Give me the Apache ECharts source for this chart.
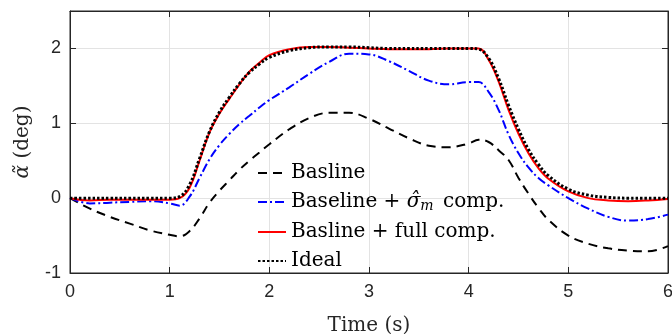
<!DOCTYPE html>
<html>
<head>
<meta charset="utf-8">
<script src="https://cdn.jsdelivr.net/npm/echarts@6/dist/echarts.min.js"></script>
<style>
  html, body { margin: 0; padding: 0; background: #fff; }
  #chart { width: 672px; height: 334px; }
</style>
</head>
<body>
<div id="chart"></div>
<script>
// time axis (s)
const timeS = [0, 0.2, 0.4, 0.6, 0.8, 1.0, 1.1, 1.2, 1.3, 1.4, 1.5, 1.6, 1.7, 1.8, 1.9, 2.0,
  2.2, 2.4, 2.6, 2.8, 3.0, 3.2, 3.4, 3.6, 3.8, 4.0, 4.1, 4.2, 4.3, 4.4, 4.5, 4.6, 4.7, 4.8,
  5.0, 5.2, 5.4, 5.6, 5.8, 6.0];

// alpha tilde (deg)
const basline = [0, -0.14, -0.25, -0.34, -0.43, -0.49, -0.51, -0.44, -0.27, -0.06, 0.10, 0.24, 0.38, 0.50, 0.61, 0.72,
  0.92, 1.07, 1.14, 1.14, 1.06, 0.93, 0.80, 0.70, 0.68, 0.73, 0.78, 0.75, 0.64, 0.51, 0.27, 0.06, -0.13, -0.29,
  -0.50, -0.61, -0.67, -0.70, -0.71, -0.64];
const sigmaComp = [0, -0.07, -0.06, -0.05, -0.04, -0.07, -0.10, 0.02, 0.27, 0.52, 0.71, 0.86, 0.99, 1.10, 1.21, 1.31,
  1.48, 1.66, 1.82, 1.93, 1.92, 1.83, 1.70, 1.57, 1.52, 1.55, 1.55, 1.42, 1.18, 0.85, 0.60, 0.41, 0.27, 0.17,
  0.0, -0.14, -0.25, -0.30, -0.28, -0.22];
const fullComp = [0, -0.03, -0.02, -0.02, -0.02, -0.02, 0.0, 0.14, 0.50, 0.88, 1.13, 1.33, 1.52, 1.69, 1.81, 1.91,
  1.99, 2.02, 2.02, 2.01, 2.0, 1.99, 1.99, 1.99, 2.0, 2.0, 2.0, 1.85, 1.56, 1.18, 0.86, 0.60, 0.40, 0.26,
  0.09, 0.0, -0.03, -0.04, -0.03, -0.01];
const ideal = [0, 0, 0, 0, 0, 0, 0.02, 0.18, 0.53, 0.89, 1.15, 1.35, 1.53, 1.68, 1.79, 1.88,
  1.97, 2.01, 2.02, 2.02, 2.01, 2.0, 2.0, 2.0, 2.0, 2.0, 1.99, 1.87, 1.60, 1.24, 0.92, 0.65, 0.45, 0.30,
  0.12, 0.04, 0.01, 0.0, 0.0, 0.0];

const seriesNames = ['Basline', 'Baseline + sigma comp.', 'Basline + full comp.', 'Ideal'];
const yTicks = { min: -1, max: 2.5, interval: 1 };
const xTicks = { min: 0, max: 6, interval: 1 };

function pairs(ys) { return timeS.map((t, i) => [t, ys[i]]); }

const axisColor = '#262626';
const serif = '"DejaVu Serif", "Liberation Serif", serif';
const sans = '"Liberation Sans", Arial, sans-serif';

const chart = echarts.init(document.getElementById('chart'), null, { renderer: 'canvas' });

chart.setOption({
  animation: false,
  backgroundColor: '#fff',
  grid: {
    left: 70, right: 4, top: 11, bottom: 61, outerBoundsMode: 'none', containLabel: false,
    show: true, borderColor: axisColor, borderWidth: 1, backgroundColor: 'rgba(0,0,0,0)'
  },
  legend: {
    orient: 'vertical',
    left: 252,
    top: 158,
    itemWidth: 28,
    itemHeight: 12,
    itemGap: 9,
    data: seriesNames,
    itemStyle: { color: 'rgba(0,0,0,0)', borderWidth: 0 },
    formatter: function (name) {
      if (name === seriesNames[1]) return '{t|Baseline + }{s|σ̂}{m|m}{t| comp.}';
      return '{t|' + name + '}';
    },
    textStyle: {
      color: '#000',
      fontFamily: serif,
      fontSize: 20,
      rich: {
        t: { fontFamily: serif, fontSize: 20, color: '#000' },
        s: { fontFamily: serif, fontSize: 20, fontStyle: 'italic', color: '#000' },
        m: { fontFamily: serif, fontSize: 14, fontStyle: 'italic', color: '#000', padding: [8, 3, 0, 0] }
      }
    }
  },
  xAxis: [
    {
      type: 'value', gridIndex: 0, position: 'bottom',
      min: xTicks.min, max: xTicks.max, interval: xTicks.interval,
      name: 'Time (s)', nameLocation: 'middle', nameGap: 43,
      nameTextStyle: { fontFamily: serif, fontSize: 20, color: axisColor },
      axisLine: { show: true, onZero: false, lineStyle: { color: axisColor, width: 1 } },
      axisTick: { show: true, inside: true, length: 6, lineStyle: { color: axisColor } },
      axisLabel: { color: axisColor, fontFamily: sans, fontSize: 18, margin: 10 },
      splitLine: { show: true, lineStyle: { color: '#e3e3e3', width: 1 } }
    },
    {
      type: 'value', gridIndex: 0, position: 'top',
      min: xTicks.min, max: xTicks.max, interval: xTicks.interval,
      axisLine: { show: true, onZero: false, lineStyle: { color: axisColor, width: 1 } },
      axisTick: { show: true, inside: true, length: 6, lineStyle: { color: axisColor, width: 1 } },
      axisLabel: { show: false },
      splitLine: { show: false }
    }
  ],
  yAxis: [
    {
      type: 'value', gridIndex: 0, position: 'left',
      min: yTicks.min, max: yTicks.max, interval: yTicks.interval,
      name: '{a|α̃} (deg)', nameLocation: 'middle', nameGap: 37,
      nameTextStyle: {
        fontFamily: serif, fontSize: 20, color: axisColor,
        rich: { a: { fontFamily: '"DejaVu Serif"', fontSize: 20, fontStyle: 'italic', color: axisColor } }
      },
      axisLine: { show: true, onZero: false, lineStyle: { color: axisColor, width: 1 } },
      axisTick: { show: true, inside: true, length: 6, lineStyle: { color: axisColor } },
      axisLabel: { color: axisColor, fontFamily: sans, fontSize: 18, margin: 9, showMaxLabel: false },
      splitLine: { show: true, lineStyle: { color: '#e3e3e3', width: 1 } }
    },
    {
      type: 'value', gridIndex: 0, position: 'right',
      min: yTicks.min, max: yTicks.max, interval: yTicks.interval,
      axisLine: { show: true, onZero: false, lineStyle: { color: axisColor, width: 1 } },
      axisTick: { show: true, inside: true, length: 6, lineStyle: { color: axisColor, width: 1 } },
      axisLabel: { show: false },
      splitLine: { show: false }
    }
  ],
  series: [
    {
      name: seriesNames[0], type: 'line', data: pairs(basline), smooth: 0.4, symbol: 'none',
      lineStyle: { color: '#000', width: 2, type: [9, 6] }, itemStyle: { color: '#000' }
    },
    {
      name: seriesNames[1], type: 'line', data: pairs(sigmaComp), smooth: 0.4, symbol: 'none',
      lineStyle: { color: '#0000ff', width: 2, type: [9, 3, 2, 3] }, itemStyle: { color: '#0000ff' }
    },
    {
      name: seriesNames[2], type: 'line', data: pairs(fullComp), smooth: 0.4, symbol: 'none',
      xAxisIndex: 1, yAxisIndex: 1,
      lineStyle: { color: '#ff0000', width: 2 }, itemStyle: { color: '#ff0000' }
    },
    {
      name: seriesNames[3], type: 'line', data: pairs(ideal), smooth: 0.4, symbol: 'none',
      xAxisIndex: 1, yAxisIndex: 1,
      lineStyle: { color: '#000', width: 3, type: [2.5, 2] }, itemStyle: { color: '#000' }
    }
  ]
});
</script>
</body>
</html>
